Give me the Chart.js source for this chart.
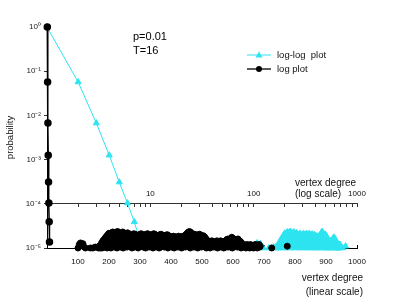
<!DOCTYPE html>
<html><head><meta charset="utf-8">
<script src="https://cdn.jsdelivr.net/npm/chart.js@4/dist/chart.umd.min.js"></script>
<style>html,body{margin:0;padding:0;background:#fff}canvas{display:block}</style>
</head><body>
<canvas id="c" width="407" height="298"></canvas>
<script>
// ---- data ----
const headDegree = [1, 2, 3, 4, 5, 6, 7, 8];
const headProb = [1, 0.057, 0.0067, 0.00126, 3.1e-4, 1.04e-4, 3.9e-5, 1.37e-5];

// noisy tail: upper part of the cloud
const upperDegree = [
  100,104,108,112,116,120,124, 140,148,156,
  164,168,172,176,180,184,188,192,196,
  200,204,208,212,216,220,224,228,232,236,240,244,248,252,256,260,
  264,268,272,276,280,284,288,292,296,300,304,308,312,316,320,324,328,332,336,340,344,348,352,356,360,364,368,372,376,380,384,388,392,396,400,
  404,408,412,416,420,424,428,432,436,440,444,448,
  452,456,460,464,468,
  472,476,480,484,488,492,496,500,504,508,512,
  516,520,524,528,532,536,540,544,548,552,556,560,564,568,572,576,
  580,584,588,592,596,600,604,608,612,616,620,624,628,
  632,636,640,644,648,652,656,660,664,668,672,676,680,684,688,
  725,775];
const upperProb = [
  1.0e-5,1.2e-5,1.3e-5,1.15e-5,1.25e-5,1.05e-5,1.0e-5, 1.0e-5,1.0e-5,1.05e-5,
  1.05e-5,1.1e-5,1.0e-5,1.3e-5,1.45e-5,1.55e-5,1.7e-5,1.85e-5,2.0e-5,
  2.15e-5,2.05e-5,2.2e-5,2.3e-5,2.25e-5,2.1e-5,2.3e-5,2.35e-5,2.2e-5,2.05e-5,2.15e-5,2.3e-5,2.2e-5,2.0e-5,2.1e-5,2.2e-5,
  2.1e-5,2.0e-5,1.9e-5,2.0e-5,2.1e-5,2.05e-5,1.95e-5,1.85e-5,1.95e-5,2.05e-5,2.1e-5,2.0e-5,1.9e-5,1.95e-5,2.05e-5,2.1e-5,2.05e-5,1.95e-5,1.9e-5,2.0e-5,2.1e-5,2.05e-5,1.95e-5,1.85e-5,1.9e-5,2.0e-5,2.05e-5,1.95e-5,1.9e-5,1.85e-5,1.95e-5,2.0e-5,1.9e-5,1.85e-5,1.8e-5,
  1.75e-5,1.85e-5,1.8e-5,1.7e-5,1.75e-5,1.85e-5,1.8e-5,1.7e-5,1.8e-5,1.85e-5,1.9e-5,2.0e-5,
  2.15e-5,2.3e-5,2.35e-5,2.25e-5,2.1e-5,
  2.0e-5,2.05e-5,1.95e-5,1.9e-5,2.0e-5,2.05e-5,1.95e-5,1.85e-5,1.9e-5,1.8e-5,1.65e-5,
  1.5e-5,1.45e-5,1.4e-5,1.35e-5,1.45e-5,1.4e-5,1.3e-5,1.35e-5,1.45e-5,1.4e-5,1.35e-5,1.45e-5,1.4e-5,1.3e-5,1.4e-5,1.45e-5,
  1.55e-5,1.6e-5,1.5e-5,1.6e-5,1.75e-5,1.65e-5,1.55e-5,1.45e-5,1.55e-5,1.6e-5,1.45e-5,1.4e-5,1.3e-5,
  1.2e-5,1.15e-5,1.1e-5,1.2e-5,1.15e-5,1.1e-5,1.2e-5,1.15e-5,1.05e-5,1.15e-5,1.2e-5,1.1e-5,1.15e-5,1.2e-5,1.1e-5,
  1.0e-5,1.1e-5];

// noisy tail: middle of the cloud
const midDegree = [
  177,181,185,189,193,197,
  201,205,209,213,217,221,225,229,233,237,241,245,249,253,257,261,
  265,269,273,277,281,285,289,293,297,301,305,309,313,317,321,325,329,333,337,341,345,349,353,357,361,365,369,373,377,381,385,389,393,397,401,
  405,409,413,417,421,425,429,433,437,441,445,449,
  453,457,461,465,469,
  473,477,481,485,489,493,497,501,505,509,513,
  581,585,589,593,597,601,605,609,613,617,621,625];
const midProb = [
  1.15e-5,1.2e-5,1.3e-5,1.35e-5,1.4e-5,1.45e-5,
  1.6e-5,1.6e-5,1.55e-5,1.65e-5,1.6e-5,1.55e-5,1.65e-5,1.6e-5,1.55e-5,1.6e-5,1.65e-5,1.55e-5,1.6e-5,1.6e-5,1.55e-5,1.6e-5,
  1.5e-5,1.45e-5,1.55e-5,1.5e-5,1.4e-5,1.5e-5,1.55e-5,1.45e-5,1.5e-5,1.4e-5,1.45e-5,1.55e-5,1.5e-5,1.45e-5,1.4e-5,1.5e-5,1.55e-5,1.45e-5,1.5e-5,1.4e-5,1.45e-5,1.5e-5,1.55e-5,1.45e-5,1.4e-5,1.5e-5,1.45e-5,1.55e-5,1.5e-5,1.4e-5,1.45e-5,1.5e-5,1.45e-5,1.4e-5,1.45e-5,
  1.4e-5,1.45e-5,1.35e-5,1.4e-5,1.5e-5,1.4e-5,1.35e-5,1.45e-5,1.4e-5,1.5e-5,1.45e-5,1.5e-5,
  1.6e-5,1.65e-5,1.65e-5,1.6e-5,1.6e-5,
  1.5e-5,1.45e-5,1.55e-5,1.5e-5,1.4e-5,1.5e-5,1.45e-5,1.4e-5,1.5e-5,1.4e-5,1.35e-5,
  1.3e-5,1.35e-5,1.3e-5,1.4e-5,1.35e-5,1.3e-5,1.25e-5,1.35e-5,1.3e-5,1.35e-5,1.25e-5,1.2e-5];

// noisy tail: low values filling the bottom of the cloud
const floorDegree = [
  166,170,174,178,182,186,190,194,198,
  202,206,210,214,218,222,226,230,234,238,242,246,250,254,258,262,
  266,270,274,278,282,286,290,294,298,302,306,310,314,318,322,326,330,334,338,342,346,350,354,358,362,366,370,374,378,382,386,390,394,398,402,
  406,410,414,418,422,426,430,434,438,442,446,450,
  454,458,462,466,470,
  474,478,482,486,490,494,498,502,506,510,514,
  518,522,526,530,534,538,542,546,550,554,558,562,566,570,574,578,
  582,586,590,594,598,602,606,610,614,618,622,626,630,
  634,638,642,646,650,654,658,662,666,670,674,678,682,686];
const floorProb = [
  1.0e-5,1.05e-5,1.1e-5,1.0e-5,1.15e-5,1.05e-5,1.2e-5,1.0e-5,1.1e-5,
  1.2e-5,1.0e-5,1.25e-5,1.1e-5,1.05e-5,1.3e-5,1.0e-5,1.15e-5,1.25e-5,1.05e-5,1.2e-5,1.0e-5,1.3e-5,1.1e-5,1.05e-5,1.25e-5,
  1.1e-5,1.3e-5,1.0e-5,1.2e-5,1.05e-5,1.25e-5,1.15e-5,1.0e-5,1.3e-5,1.1e-5,1.2e-5,1.05e-5,1.25e-5,1.0e-5,1.15e-5,1.3e-5,1.05e-5,1.2e-5,1.1e-5,1.0e-5,1.25e-5,1.15e-5,1.05e-5,1.3e-5,1.0e-5,1.2e-5,1.1e-5,1.25e-5,1.05e-5,1.15e-5,1.3e-5,1.0e-5,1.2e-5,1.1e-5,1.05e-5,
  1.25e-5,1.0e-5,1.15e-5,1.3e-5,1.05e-5,1.2e-5,1.1e-5,1.0e-5,1.25e-5,1.15e-5,1.05e-5,1.3e-5,
  1.1e-5,1.25e-5,1.0e-5,1.3e-5,1.15e-5,
  1.05e-5,1.2e-5,1.3e-5,1.0e-5,1.15e-5,1.25e-5,1.05e-5,1.3e-5,1.1e-5,1.2e-5,1.0e-5,
  1.1e-5,1.2e-5,1.0e-5,1.15e-5,1.25e-5,1.05e-5,1.1e-5,1.2e-5,1.0e-5,1.15e-5,1.05e-5,1.25e-5,1.1e-5,1.0e-5,1.2e-5,1.05e-5,
  1.2e-5,1.05e-5,1.25e-5,1.15e-5,1.0e-5,1.3e-5,1.1e-5,1.2e-5,1.05e-5,1.15e-5,1.25e-5,1.0e-5,1.1e-5,
  1.05e-5,1.1e-5,1.0e-5,1.05e-5,1.15e-5,1.0e-5,1.1e-5,1.05e-5,1.0e-5,1.1e-5,1.05e-5,1.0e-5,1.1e-5,1.05e-5];

const yTickValues = [1e-5, 1e-4, 1e-3, 1e-2, 1e-1, 1];
const yTickLabels = ['10⁻⁵', '10⁻⁴', '10⁻³', '10⁻²', '10⁻¹', '10⁰'];
const linTickValues = [0, 100, 200, 300, 400, 500, 600, 700, 800, 900, 1000];
const logTickValues = [1,2,3,4,5,6,7,8,9,10,20,30,40,50,60,70,80,90,100,200,300,400,500,600,700,800,900,1000];
const logTickLabels = [10, 100, 1000];
const seriesNames = ['log-log  plot', 'log plot'];
const annotationLines = ['p=0.01', 'T=16'];
const yTitle = 'probability';
const logTitle = ['vertex degree', '(log scale)'];
const linTitle = ['vertex degree', '(linear scale)'];

// ---- styles ----
const FAM = '"Liberation Sans", Arial, sans-serif';
const CYAN = '#2ee4f0';
const BLACK = '#000000';

const pts = (xs, ys) => xs.map((x, i) => ({x: x, y: ys[i]}));
const tailPoints = () => pts(floorDegree, floorProb)
  .concat(pts(midDegree, midProb))
  .concat(pts(upperDegree, upperProb));

const overlay = {
  id: 'overlay',
  afterDraw(chart) {
    const ctx = chart.ctx;
    const xs = chart.scales.x, ys = chart.scales.y;
    ctx.save();
    ctx.fillStyle = '#000';
    ctx.textBaseline = 'middle';
    ctx.textAlign = 'left';
    ctx.font = '11px ' + FAM;
    ctx.fillText(annotationLines[0], 133, 37);
    ctx.fillText(annotationLines[1], 133, 51);
    // legend
    ctx.font = '9.5px ' + FAM;
    const lx0 = 247, lx1 = 271, ly = [55, 69];
    ctx.strokeStyle = CYAN; ctx.lineWidth = 1;
    ctx.beginPath(); ctx.moveTo(lx0, ly[0]); ctx.lineTo(lx1, ly[0]); ctx.stroke();
    ctx.fillStyle = CYAN;
    ctx.beginPath(); ctx.moveTo(259, ly[0] - 3.5); ctx.lineTo(262.5, ly[0] + 2.5); ctx.lineTo(255.5, ly[0] + 2.5); ctx.closePath(); ctx.fill();
    ctx.strokeStyle = BLACK; ctx.lineWidth = 1.3;
    ctx.beginPath(); ctx.moveTo(lx0, ly[1]); ctx.lineTo(lx1, ly[1]); ctx.stroke();
    ctx.fillStyle = BLACK;
    ctx.beginPath(); ctx.arc(259, ly[1], 3, 0, Math.PI * 2); ctx.fill();
    ctx.fillStyle = '#111';
    ctx.fillText(seriesNames[0], 277, ly[0]);
    ctx.fillText(seriesNames[1], 277, ly[1]);
    // log axis title
    ctx.font = '10px ' + FAM;
    const logY = ys.getPixelForValue(1e-4);
    ctx.fillText(logTitle[0], 295, logY - 21);
    ctx.fillText(logTitle[1], 295, logY - 10);
    // linear axis title
    ctx.textAlign = 'right';
    ctx.fillText(linTitle[0], xs.right + 6, xs.top + 30);
    ctx.fillText(linTitle[1], xs.right + 6, xs.top + 44);
    ctx.restore();
  }
};

new Chart(document.getElementById('c'), {
  type: 'scatter',
  data: {
    datasets: [
      {label: seriesNames[1], xAxisID: 'x', data: pts(headDegree, headProb), showLine: true,
       borderColor: BLACK, backgroundColor: BLACK, borderWidth: 1.5, pointRadius: 3,
       pointBackgroundColor: BLACK, pointBorderColor: BLACK, clip: false},
      {label: seriesNames[1] + ' tail', xAxisID: 'x', data: tailPoints(), showLine: false,
       borderColor: BLACK, backgroundColor: BLACK, pointRadius: 3, pointBorderWidth: 1,
       pointBackgroundColor: BLACK, pointBorderColor: BLACK, clip: false},
      {label: seriesNames[0], xAxisID: 'xlog', data: pts(headDegree, headProb), showLine: true,
       borderColor: CYAN, backgroundColor: CYAN, borderWidth: 1, pointStyle: 'triangle', pointRadius: 3.5,
       pointBackgroundColor: CYAN, pointBorderColor: CYAN, clip: false},
      {label: seriesNames[0] + ' tail', xAxisID: 'xlog', data: tailPoints(), showLine: false,
       borderColor: CYAN, backgroundColor: CYAN, pointStyle: 'triangle', pointRadius: 3.5, pointBorderWidth: 1,
       pointBackgroundColor: CYAN, pointBorderColor: CYAN, clip: false}
    ]
  },
  options: {
    responsive: false,
    animation: false,
    events: [],
    layout: {padding: {top: 27, right: 50, left: 0, bottom: 0}},
    plugins: {legend: {display: false}, tooltip: {enabled: false}},
    scales: {
      x: {
        type: 'linear', position: 'bottom', min: 0, max: 1000,
        afterBuildTicks: s => { s.ticks = linTickValues.map(v => ({value: v})); },
        afterFit: s => { s.height = 50; },
        border: {color: '#000', width: 1},
        grid: {drawOnChartArea: false, tickLength: -3, color: '#000'},
        ticks: {padding: 12, color: '#111', font: {size: 8, family: FAM}, maxRotation: 0, autoSkip: false,
                callback: v => (v === 0 ? '' : String(v))}
      },
      xlog: {
        type: 'logarithmic', axis: 'x', position: {y: 1e-4}, min: 1, max: 1000,
        afterBuildTicks: s => { s.ticks = logTickValues.map(v => ({value: v})); },
        border: {color: '#333', width: 1},
        grid: {drawOnChartArea: false, tickLength: 3, color: '#333'},
        ticks: {padding: -18, color: '#111', font: {size: 8, family: FAM}, maxRotation: 0, autoSkip: false,
                callback: v => (logTickLabels.indexOf(v) >= 0 ? String(v) : '')}
      },
      y: {
        type: 'logarithmic', position: 'left', min: 1e-5, max: 1,
        afterBuildTicks: s => { s.ticks = yTickValues.map(v => ({value: v})); },
        afterFit: s => { s.width = 47; },
        border: {color: '#000', width: 1},
        grid: {drawOnChartArea: false, tickLength: 3, color: '#333'},
        ticks: {padding: 3, color: '#222', font: {size: 8, family: FAM}, autoSkip: false,
                callback: (v, i) => yTickLabels[i]},
        title: {display: true, text: yTitle, color: '#111', font: {size: 9.5, family: FAM}, padding: {top: 5, bottom: 0}}
      }
    }
  },
  plugins: [overlay]
});
</script>
</body></html>
